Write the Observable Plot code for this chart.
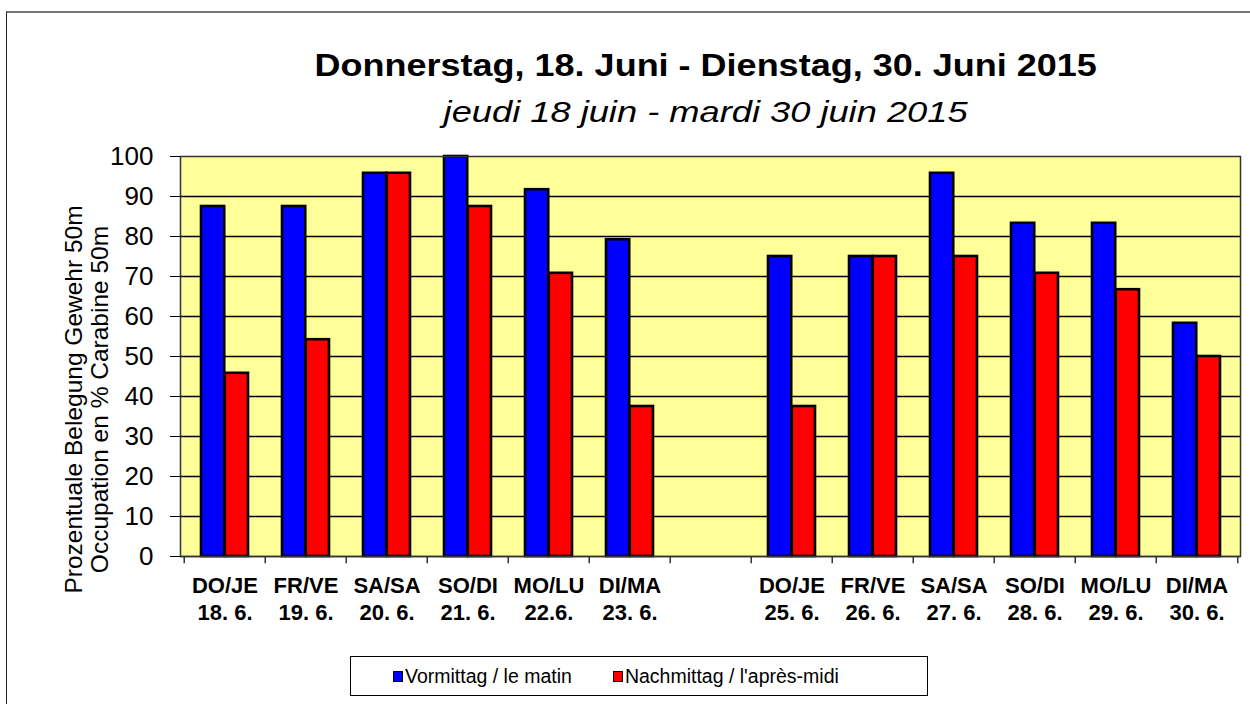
<!DOCTYPE html>
<html>
<head>
<meta charset="utf-8">
<script src="https://cdn.jsdelivr.net/npm/d3@7"></script>
<script src="https://cdn.jsdelivr.net/npm/@observablehq/plot@0.6"></script>
<style>
  html, body { margin: 0; padding: 0; background: #fff; }
  body { width: 1250px; height: 704px; position: relative; overflow: hidden; font-family: "Liberation Sans", Arial, sans-serif; }
  #frame { position: absolute; left: 6px; top: 11px; width: 1300px; height: 800px; border-top: 2px solid #777; border-left: 1.5px solid #222; }
  .head { position: absolute; left: 0; width: 1411px; text-align: center; color: #000; white-space: nowrap; }
  .head span { display: inline-block; }
  #title { top: 46.5px; font-weight: bold; font-size: 32px; }
  #title span { transform: scaleX(1.125); }
  #subtitle { top: 96px; font-style: italic; font-size: 29px; }
  #subtitle span { transform: scaleX(1.25); }
  #chart { position: absolute; left: 0; top: 140px; }
  #legend { position: absolute; left: 350px; top: 656px; width: 578px; height: 40px; border: 1.5px solid #000; display: flex; align-items: center; justify-content: flex-start; padding-left: 42px; box-sizing: border-box; gap: 41px; font-size: 19.5px; background: #fff; }
  .item { display: flex; align-items: center; }
  .sw { width: 8px; height: 9px; border: 1.5px solid #000; margin-right: 2px; }
</style>
</head>
<body>
<div id="frame"></div>
<div id="title" class="head"><span></span></div>
<div id="subtitle" class="head"><span></span></div>
<div id="chart"></div>
<div id="legend"></div>
<script>
const titleText = "Donnerstag, 18. Juni - Dienstag, 30. Juni 2015";
const subtitleText = "jeudi 18 juin - mardi 30 juin 2015";
const yLabel = "Prozentuale Belegung Gewehr 50m\nOccupation en % Carabine 50m";
const categories = ["DO/JE\n18. 6.", "FR/VE\n19. 6.", "SA/SA\n20. 6.", "SO/DI\n21. 6.", "MO/LU\n22.6.", "DI/MA\n23. 6.", "",
                    "DO/JE\n25. 6.", "FR/VE\n26. 6.", "SA/SA\n27. 6.", "SO/DI\n28. 6.", "MO/LU\n29. 6.", "DI/MA\n30. 6."];
const seriesNames = ["Vormittag / le matin", "Nachmittag / l'après-midi"];
const morning   = [87.5, 87.5, 95.8, 100, 91.7, 79.2, null, 75, 75, 95.8, 83.3, 83.3, 58.3];
const afternoon = [45.8, 54.2, 95.8, 87.5, 70.8, 37.5, null, 37.5, 75, 75, 70.8, 66.7, 50];
const yTicks = [0, 10, 20, 30, 40, 50, 60, 70, 80, 90, 100];
const colors = ["#0000ff", "#ff0000"];

document.querySelector("#title span").textContent = titleText;
document.querySelector("#subtitle span").textContent = subtitleText;

const rowsM = categories.map((c, i) => ({cat: c, v: morning[i]})).filter(d => d.v != null);
const rowsA = categories.map((c, i) => ({cat: c, v: afternoon[i]})).filter(d => d.v != null);

const W = 1250, mL = 180, mR = 10;
const bw = (W - mL - mR) / categories.length;

const chart = Plot.plot({
  width: W,
  height: 500,
  marginLeft: mL,
  marginRight: mR,
  marginTop: 16,
  marginBottom: 84,
  style: {fontFamily: "Liberation Sans, Arial, sans-serif", color: "#000", background: "transparent", overflow: "visible"},
  x: {type: "band", domain: categories, padding: 0},
  y: {domain: [0, 100]},
  marks: [
    Plot.frame({fill: "#ffff99", stroke: null}),
    Plot.ruleY(yTicks.slice(1, -1), {stroke: "#000", strokeWidth: 1.3}),
    Plot.barY(rowsM, {x: "cat", y: "v", fill: colors[0], stroke: "#000", strokeWidth: 2.6, insetLeft: 17, insetRight: bw / 2}),
    Plot.barY(rowsA, {x: "cat", y: "v", fill: colors[1], stroke: "#000", strokeWidth: 2.6, insetLeft: bw / 2, insetRight: 17}),
    Plot.frame({stroke: "#333", strokeWidth: 1.5}),
    Plot.ruleY([0], {stroke: "#333", strokeWidth: 1.5}),
    Plot.ruleX(categories, {x: d => d, dx: -bw / 2, y1: 0, y2: -1.8, stroke: "#333", strokeWidth: 1.5}),
    Plot.ruleX(categories.slice(-1), {x: d => d, dx: bw / 2, y1: 0, y2: -1.8, stroke: "#333", strokeWidth: 1.5}),
    Plot.axisY({ticks: yTicks, tickSize: 10, tickPadding: 17, fontSize: 26, label: null, tickFormat: d => String(d)}),
    Plot.axisX({tickSize: 0, tickPadding: 18, fontSize: 22, fontWeight: "bold", lineHeight: 1.2, label: null}),
    Plot.text([yLabel], {frameAnchor: "left", text: d => d, rotate: -90, dx: -94, dy: 43, fontSize: 24.5, lineHeight: 1.05, textAnchor: "middle", lineAnchor: "middle"})
  ]
});
document.getElementById("chart").appendChild(chart);

const legend = document.getElementById("legend");
seriesNames.forEach((name, i) => {
  const it = document.createElement("div");
  it.className = "item";
  const sw = document.createElement("div");
  sw.className = "sw";
  sw.style.background = colors[i];
  const t = document.createElement("span");
  t.textContent = name;
  it.appendChild(sw);
  it.appendChild(t);
  legend.appendChild(it);
});
</script>
</body>
</html>
